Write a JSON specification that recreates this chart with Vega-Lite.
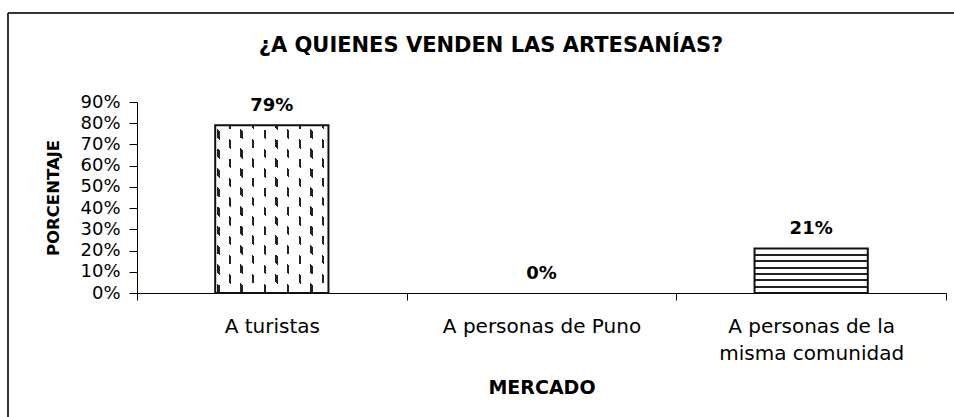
{
  "$schema": "https://vega.github.io/schema/vega-lite/v6.json",
  "width": 946,
  "height": 404,
  "autosize": {"type": "none"},
  "padding": {"left": 8, "top": 13, "right": 0, "bottom": 0},
  "background": "white",
  "title": {
    "text": "¿A QUIENES VENDEN LAS ARTESANÍAS?",
    "font": "DejaVu Sans",
    "fontSize": 21,
    "fontWeight": "bold",
    "color": "black",
    "anchor": "middle",
    "frame": "group",
    "baseline": "alphabetic",
    "offset": -60,
    "dx": 10
  },
  "config": {
    "view": {"stroke": "#333333", "strokeWidth": 2, "strokeDash": [946, 1350, 404, 0]},
    "axis": {"grid": false}
  },
  "data": {
    "values": [
      {"mercado": "A turistas", "porcentaje": 0.79},
      {"mercado": "A personas de Puno", "porcentaje": 0.0},
      {"mercado": "A personas de la misma comunidad", "porcentaje": 0.21}
    ]
  },
  "encoding": {
    "x": {
      "field": "mercado",
      "type": "nominal",
      "sort": null,
      "title": "MERCADO",
      "scale": {"type": "band", "domain": ["A turistas", "A personas de Puno", "A personas de la misma comunidad"], "range": [129, 938], "paddingInner": 0, "paddingOuter": 0},
      "axis": {
        "orient": "bottom",
        "offset": -124,
        "domainColor": "black",
        "domainWidth": 1,
        "tickColor": "black",
        "tickSize": 7,
        "tickBand": "extent",
        "labelFont": "DejaVu Sans",
        "labelFontSize": 20,
        "labelColor": "black",
        "labelAngle": 0,
        "labelBaseline": "alphabetic",
        "labelPadding": 32,
        "labelLineHeight": 27,
        "labelLimit": 400,
        "labelOverlap": false,
        "labelExpr": "datum.value == 'A personas de la misma comunidad' ? ['A personas de la', 'misma comunidad'] : datum.value",
        "titleFont": "DejaVu Sans",
        "titleFontSize": 19,
        "titleFontWeight": "bold",
        "titleColor": "black",
        "titleBaseline": "alphabetic",
        "titlePadding": 30
      }
    },
    "y": {
      "field": "porcentaje",
      "type": "quantitative",
      "title": "PORCENTAJE",
      "scale": {"domain": [0, 0.9], "range": [280, 89], "nice": false, "zero": true},
      "axis": {
        "orient": "left",
        "offset": -129,
        "values": [0, 0.1, 0.2, 0.3, 0.4, 0.5, 0.6, 0.7, 0.8, 0.9],
        "format": ".0%",
        "domainColor": "black",
        "domainWidth": 1,
        "tickColor": "black",
        "tickSize": 8,
        "labelPadding": 9,
        "labelFont": "DejaVu Sans",
        "labelFontSize": 18,
        "labelColor": "black",
        "labelOverlap": false,
        "labelFlush": false,
        "titleFont": "DejaVu Sans",
        "titleFontSize": 16.5,
        "titleFontWeight": "bold",
        "titleColor": "black",
        "titlePadding": 18
      }
    }
  },
  "layer": [
    {
      "transform": [{"filter": "datum.mercado == 'A turistas'"}],
      "mark": {
        "type": "bar",
        "width": {"band": 0.42},
        "fill": {
          "gradient": "linear", "x1": 0, "y1": 0, "x2": 1, "y2": 0,
          "stops": [
            {"offset": 0, "color": "#ffffff"},
            {"offset": 0.01677, "color": "#ffffff"}, {"offset": 0.01677, "color": "#222222"}, {"offset": 0.03795, "color": "#222222"}, {"offset": 0.03795, "color": "#ffffff"},
            {"offset": 0.11977, "color": "#ffffff"}, {"offset": 0.11977, "color": "#222222"}, {"offset": 0.14095, "color": "#222222"}, {"offset": 0.14095, "color": "#ffffff"},
            {"offset": 0.22277, "color": "#ffffff"}, {"offset": 0.22277, "color": "#222222"}, {"offset": 0.24395, "color": "#222222"}, {"offset": 0.24395, "color": "#ffffff"},
            {"offset": 0.32577, "color": "#ffffff"}, {"offset": 0.32577, "color": "#222222"}, {"offset": 0.34695, "color": "#222222"}, {"offset": 0.34695, "color": "#ffffff"},
            {"offset": 0.42877, "color": "#ffffff"}, {"offset": 0.42877, "color": "#222222"}, {"offset": 0.44996, "color": "#222222"}, {"offset": 0.44996, "color": "#ffffff"},
            {"offset": 0.53177, "color": "#ffffff"}, {"offset": 0.53177, "color": "#222222"}, {"offset": 0.55296, "color": "#222222"}, {"offset": 0.55296, "color": "#ffffff"},
            {"offset": 0.63477, "color": "#ffffff"}, {"offset": 0.63477, "color": "#222222"}, {"offset": 0.65596, "color": "#222222"}, {"offset": 0.65596, "color": "#ffffff"},
            {"offset": 0.73777, "color": "#ffffff"}, {"offset": 0.73777, "color": "#222222"}, {"offset": 0.75896, "color": "#222222"}, {"offset": 0.75896, "color": "#ffffff"},
            {"offset": 0.84078, "color": "#ffffff"}, {"offset": 0.84078, "color": "#222222"}, {"offset": 0.86196, "color": "#222222"}, {"offset": 0.86196, "color": "#ffffff"},
            {"offset": 0.94378, "color": "#ffffff"}, {"offset": 0.94378, "color": "#222222"}, {"offset": 0.96496, "color": "#222222"}, {"offset": 0.96496, "color": "#ffffff"},
            {"offset": 1, "color": "#ffffff"}
          ]
        }
      }
    },
    {
      "transform": [{"filter": "datum.mercado == 'A turistas'"}],
      "mark": {
        "type": "bar",
        "width": {"band": 0.42},
        "fill": {
          "gradient": "linear", "x1": 1, "y1": 0, "x2": 0.3363, "y2": 1.1878,
          "stops": [
            {"offset": 0, "color": "rgba(255,255,255,0)"}, {"offset": 0.02999, "color": "rgba(255,255,255,0)"}, {"offset": 0.02999, "color": "#ffffff"},
            {"offset": 0.07131, "color": "#ffffff"}, {"offset": 0.07131, "color": "rgba(255,255,255,0)"}, {"offset": 0.10383, "color": "rgba(255,255,255,0)"}, {"offset": 0.10383, "color": "#ffffff"},
            {"offset": 0.14514, "color": "#ffffff"}, {"offset": 0.14514, "color": "rgba(255,255,255,0)"}, {"offset": 0.17766, "color": "rgba(255,255,255,0)"}, {"offset": 0.17766, "color": "#ffffff"},
            {"offset": 0.21898, "color": "#ffffff"}, {"offset": 0.21898, "color": "rgba(255,255,255,0)"}, {"offset": 0.25149, "color": "rgba(255,255,255,0)"}, {"offset": 0.25149, "color": "#ffffff"},
            {"offset": 0.29281, "color": "#ffffff"}, {"offset": 0.29281, "color": "rgba(255,255,255,0)"}, {"offset": 0.32533, "color": "rgba(255,255,255,0)"}, {"offset": 0.32533, "color": "#ffffff"},
            {"offset": 0.36664, "color": "#ffffff"}, {"offset": 0.36664, "color": "rgba(255,255,255,0)"}, {"offset": 0.39916, "color": "rgba(255,255,255,0)"}, {"offset": 0.39916, "color": "#ffffff"},
            {"offset": 0.44048, "color": "#ffffff"}, {"offset": 0.44048, "color": "rgba(255,255,255,0)"}, {"offset": 0.47299, "color": "rgba(255,255,255,0)"}, {"offset": 0.47299, "color": "#ffffff"},
            {"offset": 0.51431, "color": "#ffffff"}, {"offset": 0.51431, "color": "rgba(255,255,255,0)"}, {"offset": 0.54683, "color": "rgba(255,255,255,0)"}, {"offset": 0.54683, "color": "#ffffff"},
            {"offset": 0.58814, "color": "#ffffff"}, {"offset": 0.58814, "color": "rgba(255,255,255,0)"}, {"offset": 0.62066, "color": "rgba(255,255,255,0)"}, {"offset": 0.62066, "color": "#ffffff"},
            {"offset": 0.66197, "color": "#ffffff"}, {"offset": 0.66197, "color": "rgba(255,255,255,0)"}, {"offset": 0.69449, "color": "rgba(255,255,255,0)"}, {"offset": 0.69449, "color": "#ffffff"},
            {"offset": 0.73581, "color": "#ffffff"}, {"offset": 0.73581, "color": "rgba(255,255,255,0)"}, {"offset": 0.76832, "color": "rgba(255,255,255,0)"}, {"offset": 0.76832, "color": "#ffffff"},
            {"offset": 0.80964, "color": "#ffffff"}, {"offset": 0.80964, "color": "rgba(255,255,255,0)"}, {"offset": 0.84216, "color": "rgba(255,255,255,0)"}, {"offset": 0.84216, "color": "#ffffff"},
            {"offset": 0.88348, "color": "#ffffff"}, {"offset": 0.88348, "color": "rgba(255,255,255,0)"}, {"offset": 0.91599, "color": "rgba(255,255,255,0)"}, {"offset": 0.91599, "color": "#ffffff"},
            {"offset": 0.95730, "color": "#ffffff"}, {"offset": 0.95730, "color": "rgba(255,255,255,0)"}, {"offset": 0.98982, "color": "rgba(255,255,255,0)"}, {"offset": 0.98982, "color": "#ffffff"},
            {"offset": 1, "color": "#ffffff"}
          ]
        }
      }
    },
    {
      "transform": [{"filter": "datum.mercado == 'A personas de la misma comunidad'"}],
      "mark": {
        "type": "bar",
        "width": {"band": 0.42},
        "fill": {
          "gradient": "linear", "x1": 0, "y1": 0, "x2": 0, "y2": 1,
          "stops": [
            {"offset": 0, "color": "#ffffff"},
            {"offset": 0.1209, "color": "#ffffff"}, {"offset": 0.1209, "color": "#222222"}, {"offset": 0.1649, "color": "#222222"}, {"offset": 0.1649, "color": "#ffffff"},
            {"offset": 0.2637, "color": "#ffffff"}, {"offset": 0.2637, "color": "#222222"}, {"offset": 0.3077, "color": "#222222"}, {"offset": 0.3077, "color": "#ffffff"},
            {"offset": 0.4066, "color": "#ffffff"}, {"offset": 0.4066, "color": "#222222"}, {"offset": 0.4506, "color": "#222222"}, {"offset": 0.4506, "color": "#ffffff"},
            {"offset": 0.5494, "color": "#ffffff"}, {"offset": 0.5494, "color": "#222222"}, {"offset": 0.5934, "color": "#222222"}, {"offset": 0.5934, "color": "#ffffff"},
            {"offset": 0.6923, "color": "#ffffff"}, {"offset": 0.6923, "color": "#222222"}, {"offset": 0.7363, "color": "#222222"}, {"offset": 0.7363, "color": "#ffffff"},
            {"offset": 0.8352, "color": "#ffffff"}, {"offset": 0.8352, "color": "#222222"}, {"offset": 0.8792, "color": "#222222"}, {"offset": 0.8792, "color": "#ffffff"},
            {"offset": 1, "color": "#ffffff"}
          ]
        }
      }
    },
    {
      "transform": [{"filter": "datum.porcentaje > 0"}],
      "mark": {"type": "bar", "width": {"band": 0.42}, "fill": "transparent", "stroke": "#111111", "strokeWidth": 2}
    },
    {
      "mark": {"type": "text", "dy": -14, "baseline": "alphabetic", "align": "center", "font": "DejaVu Sans", "fontWeight": "bold", "fontSize": 18, "color": "black"},
      "encoding": {
        "text": {"field": "porcentaje", "type": "quantitative", "format": ".0%"}
      }
    }
  ]
}
